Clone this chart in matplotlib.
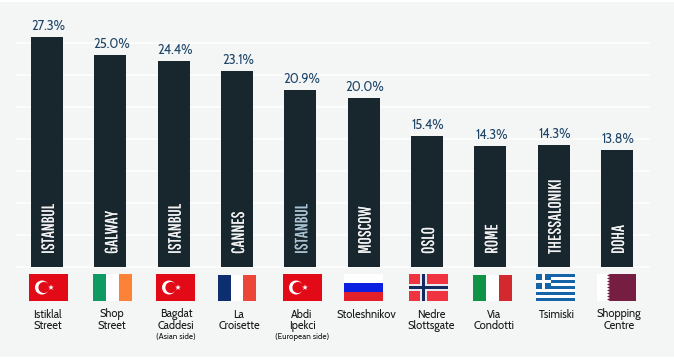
import matplotlib
matplotlib.use('Agg')
import matplotlib.pyplot as plt
import matplotlib.patheffects as pe
from matplotlib.patches import Rectangle, Circle, Polygon
import numpy as np

# Chart data
streets = ["Istiklal\nStreet", "Shop\nStreet", "Bagdat\nCaddesi", "La\nCroisette", "Abdi\nIpekci",
           "Stoleshnikov", "Nedre\nSlottsgate", "Via\nCondotti", "Tsimiski", "Shopping\nCentre"]
notes = ["", "", "(Asian side)", "", "(European side)", "", "", "", "", ""]
cities = ["ISTANBUL", "GALWAY", "ISTANBUL", "CANNES", "ISTANBUL",
          "MOSCOW", "OSLO", "ROME", "THESSALONIKI", "DOHA"]
# Heights as measured off the bars, the printed labels round a little differently
shares = [27.35, 25.15, 24.5, 23.3, 21.04, 20.08, 15.55, 14.36, 14.48, 13.89]
value_labels = ["27.3%", "25.0%", "24.4%", "23.1%", "20.9%", "20.0%", "15.4%", "14.3%", "14.3%", "13.8%"]
countries = ["tr", "ie", "tr", "fr", "tr", "ru", "no", "it", "gr", "qa"]
grid_levels = [0, 3.8, 7.6, 11.4, 15.2, 19.0, 22.8, 26.6]

# Pixel layout of the picture
W, H = 674, 361
BG = "#f4f5f5"
BAR = "#18262e"
BLUE = "#1d4568"
TEXT = "#1a1a1a"
FONT = ["Cabin", "Lato", "DejaVu Sans"]
NARROW = ["Pathway Gothic One", "Liberation Sans", "DejaVu Sans"]
flag_left = [29, 93, 156, 218, 283, 344, 409, 473, 536, 597]
label_x = [47.7, 112, 176, 239, 302, 366, 431, 494, 557, 619]
label_color = ["#f2f2f2"] * 10
label_color[4] = "#a9c3d2"


def drawFlag(ov, kind, x, y=274, w=39, h=27):
    # Draw one flag as plain patches, in pixel coordinates
    def rect(x0, y0, rw, rh, color):
        ov.add_patch(Rectangle((x0, y0), rw, rh, fc=color, ec="none"))

    if kind == "tr":
        rect(x, y, w, h, "#e30a17")
        ov.add_patch(Circle((x + 13, y + 13.5), 7, fc="white", ec="none"))
        ov.add_patch(Circle((x + 15, y + 13.5), 5.6, fc="#e30a17", ec="none"))
        ang = np.arange(10) * np.pi / 5
        rad = np.where(np.arange(10) % 2 == 0, 3.0, 1.2)
        pts = np.column_stack([x + 22 + rad * np.sin(ang), y + 13.5 - rad * np.cos(ang)])
        ov.add_patch(Polygon(pts, fc="white", ec="none"))
    elif kind == "ie":
        rect(x, y, 13, h, "#0d9b63")
        rect(x + 13, y, 13, h, "white")
        rect(x + 26, y, 13, h, "#fb8237")
    elif kind == "fr":
        rect(x, y + 1, 13, h - 1, "#0e2f6f")
        rect(x + 13, y + 1, 12, h - 1, "white")
        rect(x + 25, y + 1, 13, h - 1, "#ec4639")
    elif kind == "ru":
        rect(x, y, w, 9, "white")
        rect(x, y + 9, w, 9, "#0a1fe0")
        rect(x, y + 18, w, 9, "#e3202a")
    elif kind == "no":
        rect(x, y, w, h, "#ef3340")
        rect(x + 11, y, 7, h, "#e8e8f0")
        rect(x, y + 10, w, 7, "#e8e8f0")
        rect(x + 13, y, 3, h, "#14295e")
        rect(x, y + 12, w, 3, "#14295e")
    elif kind == "it":
        rect(x, y + 1, 13, h - 1, "#0f9447")
        rect(x + 13, y + 1, 13, h - 1, "white")
        rect(x + 26, y + 1, 13, h - 1, "#d2282e")
    elif kind == "gr":
        band = h / 9.0
        for i in range(9):
            rect(x, y + i * band, w, band, "#1664a8" if i % 2 == 0 else "white")
        rect(x, y, 15, 5 * band, "#1664a8")
        rect(x + 6, y, 3, 5 * band, "white")
        rect(x, y + 2 * band, 15, band, "white")
    elif kind == "qa":
        rect(x, y, w, h, "#761d42")
        n = 9
        step = h / float(n)
        pts = [(x, y)]
        for i in range(n):
            pts += [(x + 13, y + i * step), (x + 10, y + (i + 0.5) * step)]
        pts += [(x + 13, y + h), (x, y + h)]
        ov.add_patch(Polygon(pts, fc="white", ec="none"))
    return


def plotData(filename):
    fig = plt.figure(figsize=(W / 100.0, H / 100.0), dpi=100, facecolor="white")

    # Overlay in pixel coordinates for the panel, flags and street names
    ov = fig.add_axes([0, 0, 1, 1], zorder=0)
    ov.set_xlim(0, W)
    ov.set_ylim(H, 0)
    ov.axis("off")
    ov.add_patch(Rectangle((0, 2), W, 355, fc=BG, ec="none"))

    # Bar axes: spans x 16-649 px, baseline at y 266.5 px
    ax = fig.add_axes([16.0 / W, (H - 266.5) / H, 633.0 / W, 246.5 / H], zorder=1)
    ax.patch.set_visible(False)
    ax.set_xlim(-0.4895, 9.506)
    ax.set_ylim(0, 246.5 / 8.39)
    for side in ax.spines.values():
        side.set_visible(False)
    ax.set_xticks([])
    ax.set_yticks(grid_levels)
    ax.set_yticklabels([])
    ax.tick_params(length=0)
    ax.grid(axis="y", color="white", lw=1.1, clip_on=False)
    ax.set_axisbelow(True)

    pos = np.arange(len(shares))
    ax.bar(pos, shares, width=0.505, color=BAR, zorder=2)

    # Value labels over the bars and city names inside them
    for i in pos:
        ax.annotate(value_labels[i], (i + 0.02, shares[i]), xytext=(0, 3.2), textcoords="offset points",
                    ha="center", va="bottom", fontsize=9.2, color=BLUE, family=FONT)
        t = ax.text(i + 0.03, 1.5, cities[i], rotation=90, ha="center", va="bottom", fontsize=12.6,
                    color=label_color[i], family=NARROW, zorder=3)
        # The original lettering is a bit heavier than this font
        t.set_path_effects([pe.withStroke(linewidth=0.12, foreground=label_color[i])])

    # Flags and street names
    for i in pos:
        drawFlag(ov, countries[i], flag_left[i])
        ov.text(label_x[i], 308.5, streets[i], ha="center", va="top", fontsize=7.9, color=TEXT,
                family=FONT, linespacing=0.95)
        if notes[i]:
            ov.text(label_x[i], 337, notes[i], ha="center", va="center", fontsize=5.9, color=TEXT, family=FONT)

    fig.savefig(filename, dpi=100)
    return


if __name__ == "__main__":
    plotData("out.png")
